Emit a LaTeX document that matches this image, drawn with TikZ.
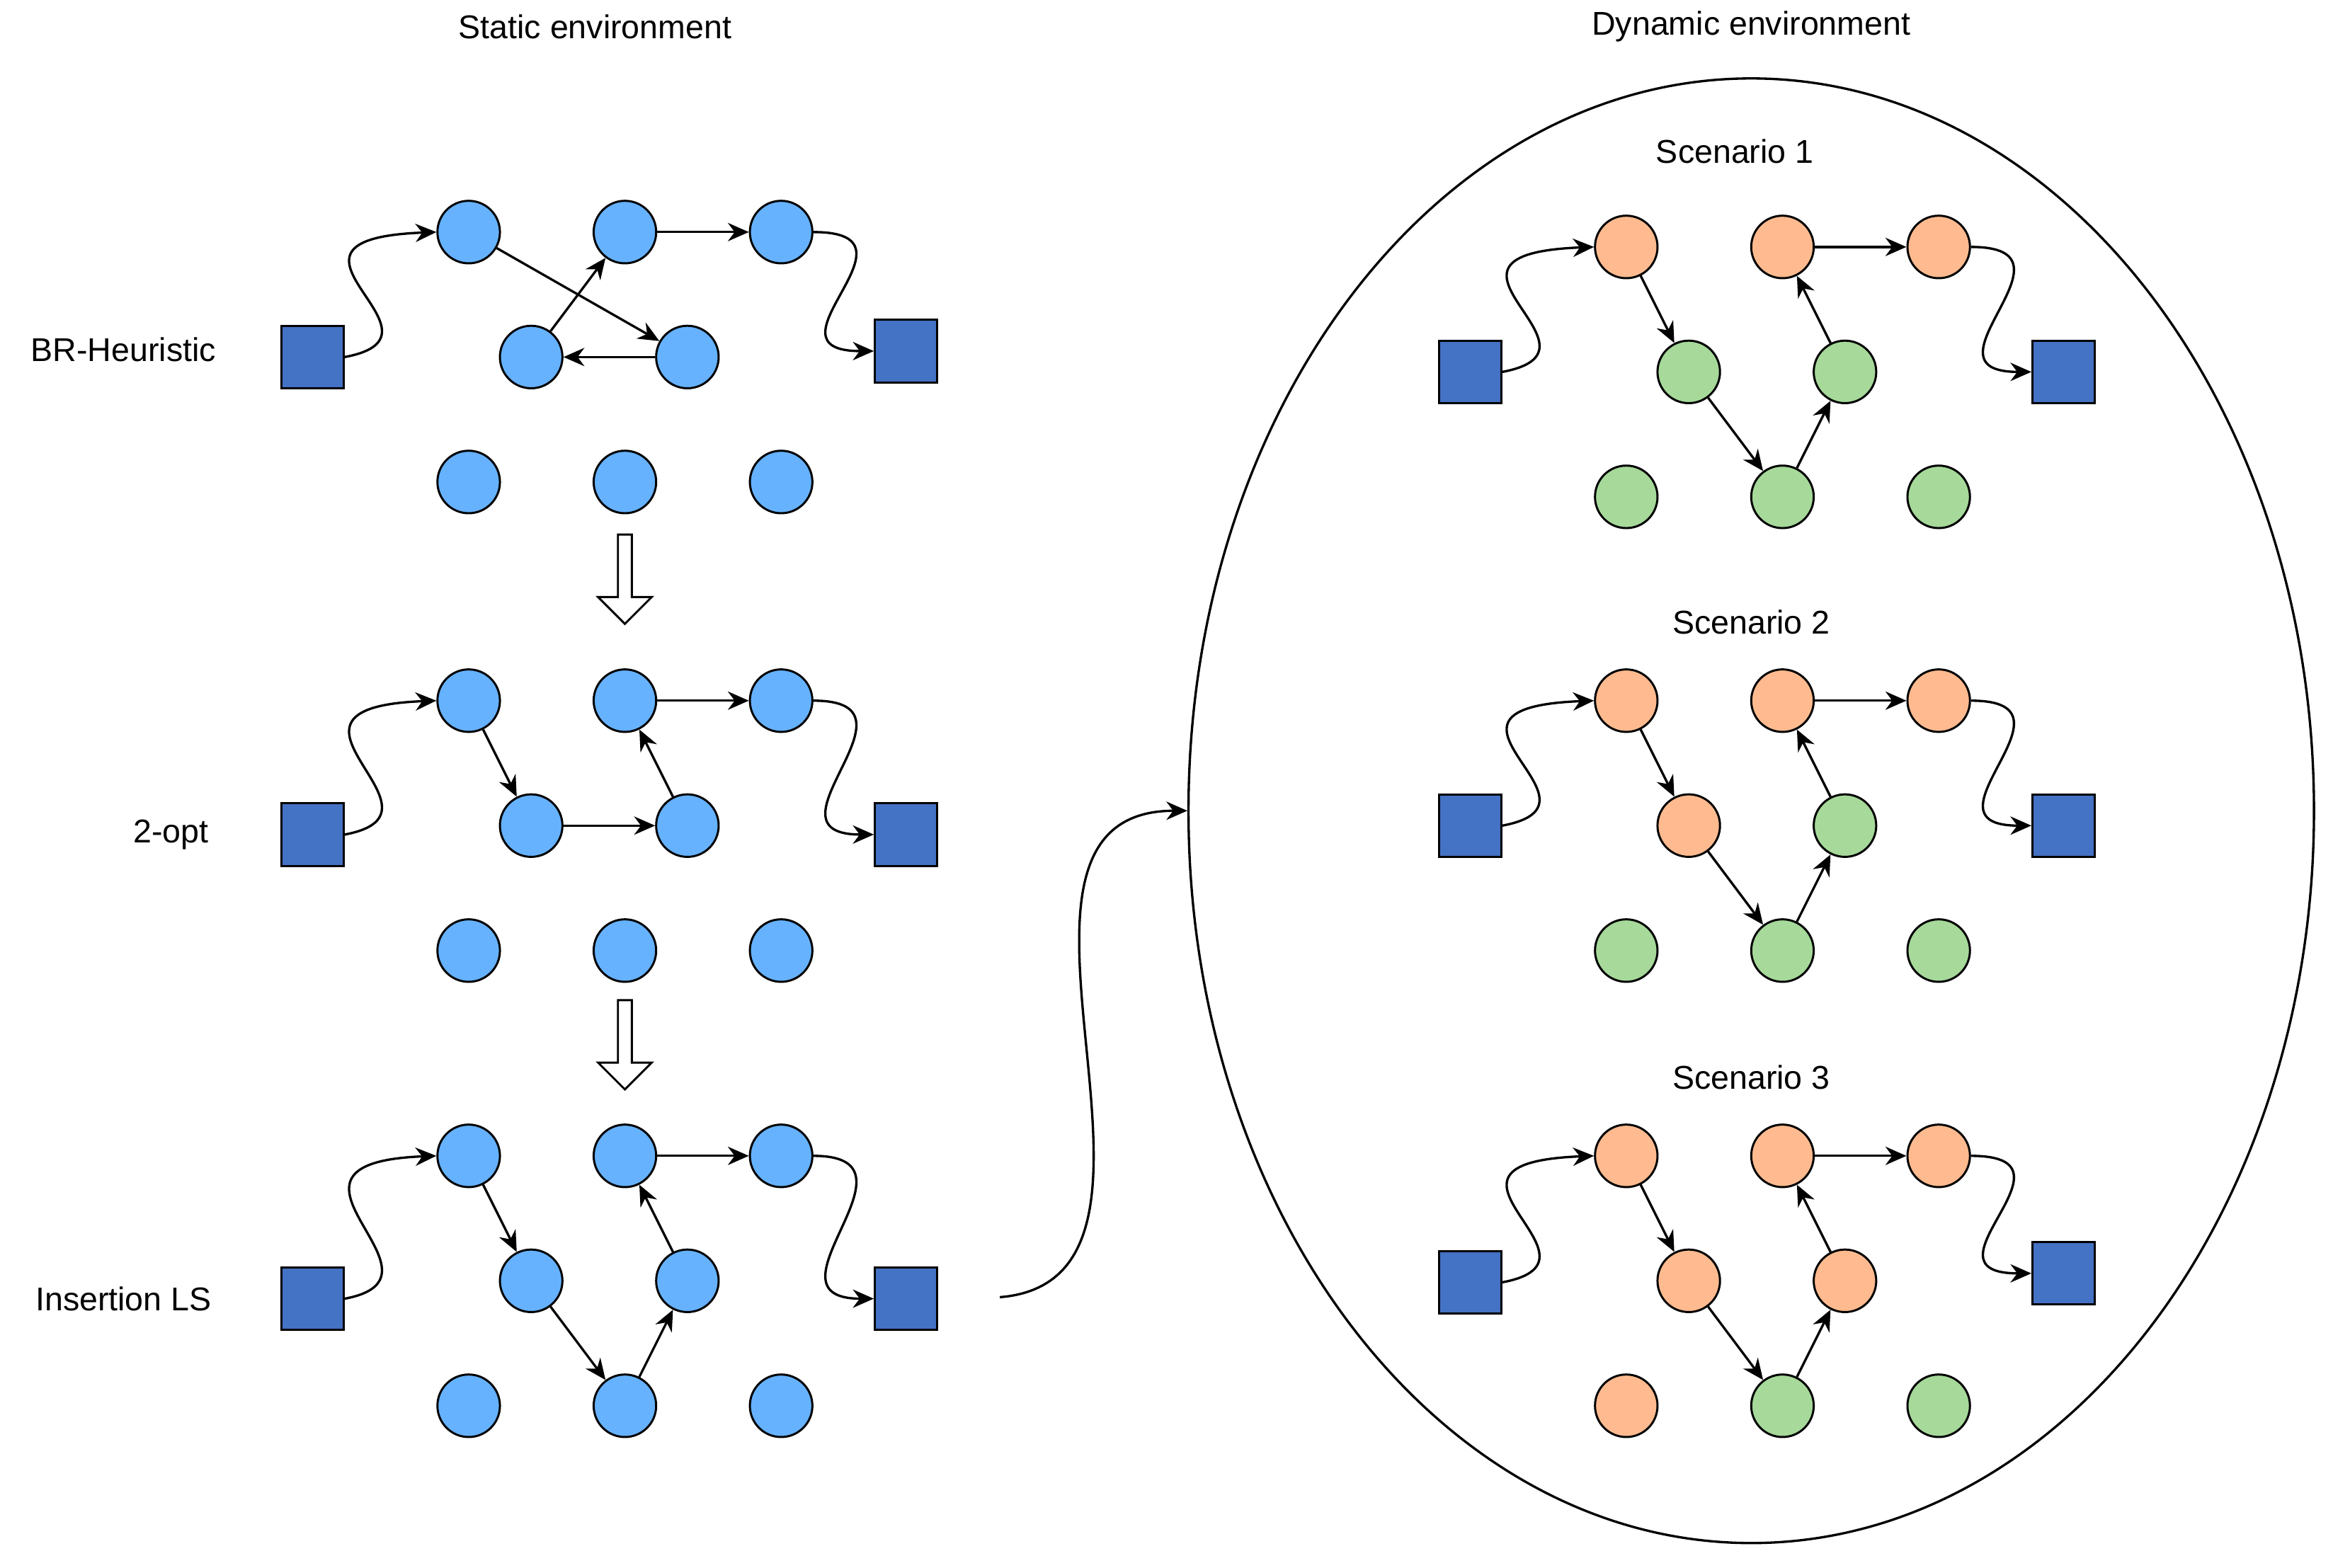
\documentclass[tikz,border=0pt]{standalone}
\usepackage{fontspec}
\setmainfont{Liberation Sans}
\usetikzlibrary{arrows.meta,shapes.arrows,shapes.geometric}
\begin{document}
\begin{tikzpicture}[x=0.01cm,y=-0.01cm,
  every node/.style={font=\fontsize{6.3}{8}\selectfont},
  bc/.style={circle,draw,line width=0.4pt,fill=cb,minimum size=0.42cm,inner sep=0},
  oc/.style={bc,fill=co},
  gc/.style={bc,fill=cg},
  sq/.style={draw,line width=0.4pt,fill=cs,minimum size=0.42cm,inner sep=0},
  ar/.style={-{Stealth[length=4pt,width=3.5pt]},line width=0.45pt},
  lc/.style={ar,out=10,in=180,looseness=1},
  ha/.style={single arrow,draw,fill=white,rotate=-90,minimum height=0.6cm,minimum width=0.36cm,single arrow head extend=0.08cm,inner sep=0.6pt,line width=0.4pt}]
\definecolor{cb}{HTML}{66B2FF}
\definecolor{cs}{HTML}{4472C4}
\definecolor{co}{HTML}{FFBB8F}
\definecolor{cg}{HTML}{A6D99A}
\useasboundingbox (0,0) rectangle (1568,1054);
\node (ts) at (400,18) {Static environment};
\node (td) at (1177,18) {Dynamic environment};
\node[draw,ellipse,minimum width=7.56cm,minimum height=9.84cm,inner sep=0,line width=0.45pt] (el) at (1177,545) {};
% static panels
\foreach \p/\y in {a/156,b/471,c/777}{
  \node[bc] (\p1) at (315,\y) {};
  \node[bc] (\p2) at (420,\y) {};
  \node[bc] (\p3) at (525,\y) {};
  \node[bc] (\p4) at (357,\y+84) {};
  \node[bc] (\p5) at (462,\y+84) {};
  \node[bc] (\p6) at (315,\y+168) {};
  \node[bc] (\p7) at (420,\y+168) {};
  \node[bc] (\p8) at (525,\y+168) {};
}
\node[sq] (as1) at (210,240) {}; \node[sq] (as2) at (609,236) {};
\node[sq] (bs1) at (210,561) {}; \node[sq] (bs2) at (609,561) {};
\node[sq] (cs1) at (210,873) {}; \node[sq] (cs2) at (609,873) {};
\node (la) at (83,235) {BR-Heuristic};
\node (lb) at (115,561) {2-opt};
\node (lc) at (83,873) {Insertion LS};
\node[ha] (h1) at (420,387) {};
\node[ha] (h2) at (420,700) {};
\foreach \p in {a,b,c}{
  \draw[ar] (\p s1.east) .. controls +(80,-15) and +(-130,5) .. (\p1.west);
  \draw[ar] (\p3.east) .. controls +(80,0) and +(-80,0) .. (\p s2.west);
  \draw[ar] (\p2) -- (\p3);
}
\draw[ar] (a1) -- (a5); \draw[ar] (a5) -- (a4); \draw[ar] (a4) -- (a2);
\draw[ar] (b1) -- (b4); \draw[ar] (b4) -- (b5); \draw[ar] (b5) -- (b2);
\draw[ar] (c1) -- (c4); \draw[ar] (c4) -- (c7); \draw[ar] (c7) -- (c5); \draw[ar] (c5) -- (c2);
% scenarios
\foreach \p/\y/\m/\n/\q/\r in {d/166/gc/gc/gc/gc,e/471/oc/gc/gc/gc,f/777/oc/oc/oc/gc}{
  \node[oc] (\p1) at (1093,\y) {};
  \node[oc] (\p2) at (1198,\y) {};
  \node[oc] (\p3) at (1303,\y) {};
  \node[\m] (\p4) at (1135,\y+84) {};
  \node[\n] (\p5) at (1240,\y+84) {};
  \node[\q] (\p6) at (1093,\y+168) {};
  \node[gc] (\p7) at (1198,\y+168) {};
  \node[\r] (\p8) at (1303,\y+168) {};
  \draw[ar] (\p1) -- (\p4); \draw[ar] (\p4) -- (\p7); \draw[ar] (\p7) -- (\p5); \draw[ar] (\p5) -- (\p2); \draw[ar] (\p2) -- (\p3);
}
\node (s1) at (1166,102) {Scenario 1};
\node (s2) at (1177,418) {Scenario 2};
\node (s3) at (1177,724) {Scenario 3};
\node[sq] (ds1) at (988,250) {}; \node[sq] (ds2) at (1387,250) {};
\node[sq] (es1) at (988,555) {}; \node[sq] (es2) at (1387,555) {};
\node[sq] (fs1) at (988,862) {}; \node[sq] (fs2) at (1387,856) {};
\foreach \p in {d,e,f}{
  \draw[ar] (\p s1.east) .. controls +(80,-15) and +(-130,5) .. (\p1.west);
  \draw[ar] (\p3.east) .. controls +(80,0) and +(-80,0) .. (\p s2.west);
}
\coordinate (st) at (672,872);
\draw[ar] (st) .. controls (820,860) and (640,545) .. (el.west);
\end{tikzpicture}
\end{document}
